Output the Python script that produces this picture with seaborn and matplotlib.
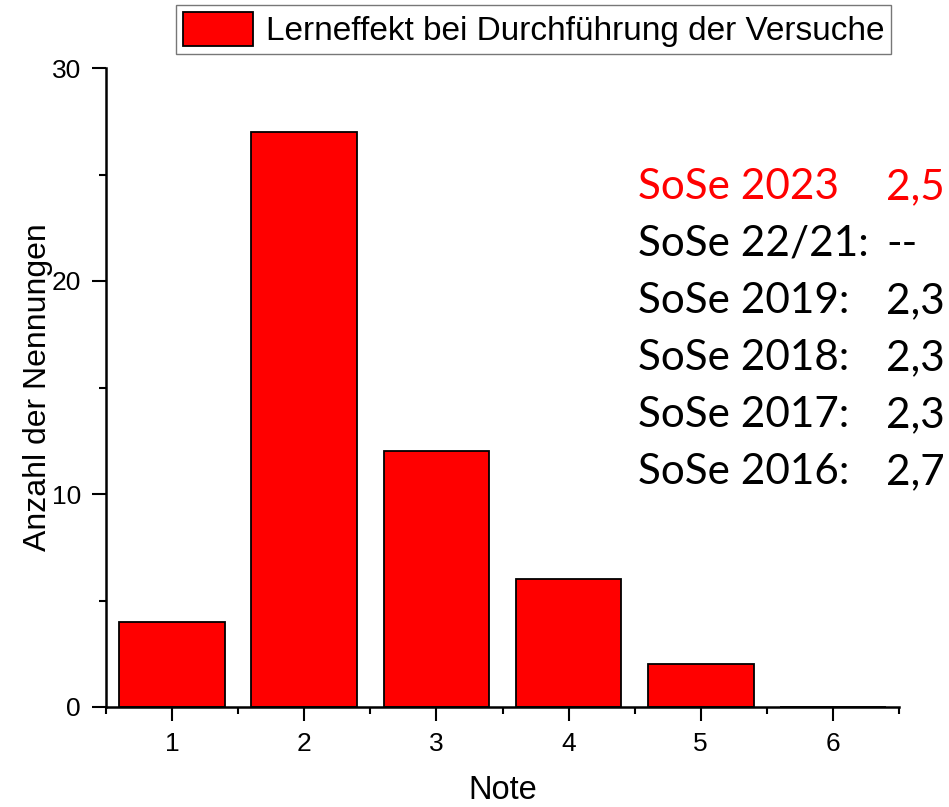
import matplotlib
matplotlib.use("Agg")
import matplotlib.pyplot as plt
import seaborn as sns
import pandas as pd
from matplotlib.ticker import MultipleLocator

notes = [1, 2, 3, 4, 5, 6]
counts = [4, 27, 12, 6, 2, 0]
series_label = "Lerneffekt bei Durchführung der Versuche"
semesters = ["SoSe 2023", "SoSe 22/21:", "SoSe 2019:", "SoSe 2018:", "SoSe 2017:", "SoSe 2016:"]
averages = ["2,5", "--", "2,3", "2,3", "2,3", "2,7"]
text_colors = ["#ff0000", "black", "black", "black", "black", "black"]

sns.set_style("ticks")
plt.rcParams["font.family"] = ["Liberation Sans", "DejaVu Sans"]
plt.rcParams.update({"text.color": "black", "axes.labelcolor": "black",
                     "xtick.color": "black", "ytick.color": "black",
                     "axes.edgecolor": "black"})

df = pd.DataFrame({"Note": notes, "Anzahl": counts})

fig = plt.figure(figsize=(9.49, 8.07), dpi=100)
ax = fig.add_axes([106/949, 1-707/807, (899-106)/949, (707-68)/807])

sns.barplot(data=df, x="Note", y="Anzahl", native_scale=True, width=0.8,
            color="#ff0000", saturation=1, edgecolor="black", linewidth=1.3,
            label=series_label, ax=ax)

ax.set_xlim(0.5, 6.5)
ax.set_ylim(0, 30)
ax.xaxis.set_major_locator(MultipleLocator(1))
ax.xaxis.set_minor_locator(MultipleLocator(0.5))
ax.yaxis.set_major_locator(MultipleLocator(10))
ax.yaxis.set_minor_locator(MultipleLocator(5))
ax.tick_params(which="major", direction="out", length=10, width=1.5, labelsize=19, pad=8)
ax.tick_params(which="minor", direction="out", length=5, width=1.5)
for s in ["left", "bottom"]:
    ax.spines[s].set_linewidth(1.8)
sns.despine(ax=ax)

ax.set_xlabel("Note", fontsize=23.5, labelpad=14)
ax.set_ylabel("Anzahl der Nennungen", fontsize=23, labelpad=-1)

leg = ax.legend(loc="upper left", bbox_to_anchor=(176/949, 1-5/807),
                bbox_transform=fig.transFigure, fontsize=24, frameon=True,
                fancybox=False, edgecolor="#555555", handlelength=2.1,
                handleheight=1.2, handletextpad=0.4, borderpad=0.2,
                borderaxespad=0)
leg.get_frame().set_linewidth(1.0)

y0 = 199
for i, (sem, avg, col) in enumerate(zip(semesters, averages, text_colors)):
    yy = 1 - (y0 + i*57)/807
    fig.text(638/949, yy, sem, color=col, fontsize=30.4, family="Lato", va="baseline", ha="left")
    fig.text(886/949, yy, avg, color=col, fontsize=30.4, family="Lato", va="baseline", ha="left")

fig.savefig("out.png", dpi=100)
